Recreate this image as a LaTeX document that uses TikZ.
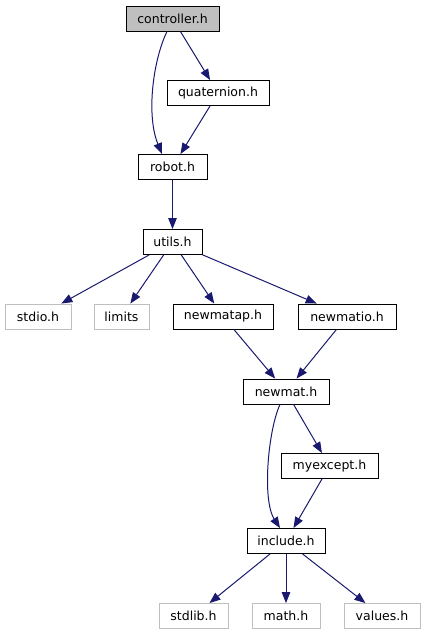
\documentclass[tikz,border=0pt]{standalone}
\usepackage{fontspec}
\setmainfont{DejaVu Sans}
\usetikzlibrary{arrows.meta}
\definecolor{edgeblue}{HTML}{191970}
\definecolor{greyfill}{HTML}{BFBFBF}
\definecolor{greyline}{HTML}{BFBFBF}
\begin{document}
\begin{tikzpicture}[x=1pt,y=-1pt,
  hbox/.style={draw=black,line width=0.9pt,fill=white,minimum height=25pt,inner sep=0pt,font=\fontsize{12.5}{14}\selectfont},
  ext/.style={draw=greyline,line width=0.9pt,fill=white,minimum height=25pt,inner sep=0pt,font=\fontsize{12.5}{14}\selectfont},
  edge/.style={draw=edgeblue,line width=1pt,-{Triangle[length=11pt,width=8.5pt]}}]
\useasboundingbox (0,0) rectangle (425,635);
\node[hbox,fill=greyfill,minimum width=93pt] (ctrl) at (172.5,18.5) {controller.h};
\node[hbox,minimum width=102pt] (quat) at (218,93) {quaternion.h};
\node[hbox,minimum width=69pt] (robot) at (172.5,167) {robot.h};
\node[hbox,minimum width=59pt] (utils) at (172.5,242) {utils.h};
\node[ext,minimum width=66pt] (stdio) at (38,316.5) {stdio.h};
\node[ext,minimum width=55pt] (limits) at (121.5,316.5) {limits};
\node[hbox,minimum width=100pt] (newmatap) at (223,316.5) {newmatap.h};
\node[hbox,minimum width=98pt] (newmatio) at (347,316.5) {newmatio.h};
\node[hbox,minimum width=86pt] (newmat) at (286,391.5) {newmat.h};
\node[hbox,minimum width=97pt] (myexcept) at (329.5,466) {myexcept.h};
\node[hbox,minimum width=78pt] (include) at (286,541) {include.h};
\node[ext,minimum width=69pt] (stdlib) at (193.5,616) {stdlib.h};
\node[ext,minimum width=68pt] (math) at (286,616) {math.h};
\node[ext,minimum width=76pt] (values) at (382,616) {values.h};

\draw[edge] ([xshift=-5.5pt]ctrl.south) .. controls +(-14,29) and +(-16,-39) .. ([xshift=-10.5pt]robot.north);
\draw[edge] (ctrl) -- (quat);
\draw[edge] (quat) -- (robot);
\draw[edge] (robot) -- (utils);
\draw[edge] (utils) -- (stdio);
\draw[edge] (utils) -- (limits);
\draw[edge] (utils) -- (newmatap);
\draw[edge] (utils) -- (newmatio);
\draw[edge] (newmatap) -- (newmat);
\draw[edge] (newmatio) -- (newmat);
\draw[edge] ([xshift=-6pt]newmat.south) .. controls +(-12,26) and +(-18,-28) .. ([xshift=-6pt]include.north);
\draw[edge] (newmat) -- (myexcept);
\draw[edge] (myexcept) -- (include);
\draw[edge] (include) -- (stdlib);
\draw[edge] (include) -- (math);
\draw[edge] (include) -- (values);
\end{tikzpicture}
\end{document}
